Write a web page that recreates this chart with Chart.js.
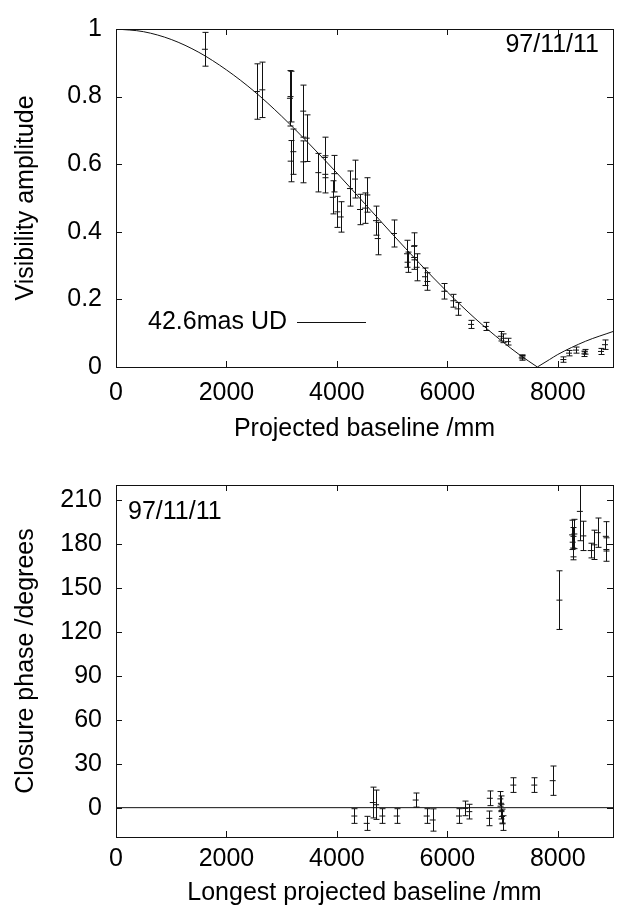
<!DOCTYPE html>
<html>
<head>
<meta charset="utf-8">
<script src="https://cdn.jsdelivr.net/npm/chart.js@4/dist/chart.umd.min.js"></script>
<style>
    html, body { margin: 0; padding: 0; background: #fff; }
    canvas { display: block; }
</style>
</head>
<body>
<canvas id="visChart" width="629" height="450"></canvas>
<canvas id="phaseChart" width="629" height="463"></canvas>
<script>
// Top panel: visibility amplitude vs projected baseline
const visX = [1610, 2550, 2650, 3150, 3160, 3163, 3211, 3390, 3392, 3453, 3664, 3780, 3790, 3924, 3954,
    4008, 4069, 4237, 4328, 4419, 4509, 4551, 4708, 4739, 5034, 5270, 5280, 5397, 5400, 5445,
    5596, 5638, 5946, 6109, 6187, 6429, 6695, 6966, 7014, 7093, 7347, 7360, 8101, 8204, 8330,
    8481, 8490, 8783, 8855];
const visY = [0.94, 0.815, 0.82, 0.795, 0.80, 0.609, 0.637, 0.757, 0.607, 0.677, 0.575, 0.62, 0.57, 0.502, 0.572,
    0.459, 0.444, 0.528, 0.556, 0.466, 0.47, 0.509, 0.433, 0.38, 0.395, 0.335, 0.31, 0.357, 0.324, 0.295,
    0.267, 0.253, 0.224, 0.196, 0.172, 0.126, 0.12, 0.091, 0.085, 0.075, 0.027, 0.03, 0.022, 0.041, 0.05,
    0.039, 0.045, 0.046, 0.066];
const visErr = [0.05, 0.082, 0.082, 0.082, 0.075, 0.061, 0.067, 0.077, 0.062, 0.069, 0.057, 0.06, 0.055, 0.049, 0.054,
    0.046, 0.045, 0.052, 0.056, 0.045, 0.045, 0.051, 0.043, 0.048, 0.04, 0.04, 0.03, 0.04, 0.035, 0.04,
    0.026, 0.026, 0.023, 0.019, 0.019, 0.012, 0.012, 0.014, 0.013, 0.01, 0.007, 0.006, 0.008, 0.008, 0.009,
    0.008, 0.007, 0.009, 0.014];

// uniform disk model curve (main lobe, then the start of the second lobe)
const lobe1X = [0, 500, 1000, 1500, 2000, 2500, 3000, 3500, 4000, 4500, 5000, 5500, 6000, 6500, 7000, 7300, 7630];
const lobe1Y = [1, 0.992, 0.969, 0.931, 0.879, 0.816, 0.742, 0.660, 0.574, 0.484, 0.394, 0.306, 0.222, 0.144, 0.075, 0.037, 0];
const lobe2X = [7630, 7850, 8000, 8500, 9000];
const lobe2Y = [0, 0.022, 0.037, 0.076, 0.105];

// Bottom panel: closure phase vs longest projected baseline
const phaseX = [4316, 4540, 4650, 4710, 4823, 5083, 5427, 5626, 5735, 6211, 6326, 6398, 6760, 6770,
    6960, 6970, 6980, 6990, 7000, 7195, 7575, 7908, 8030, 8260, 8270, 8280, 8300, 8400, 8463,
    8597, 8662, 8723, 8870, 8880];
const phaseY = [-5.7, -10.7, 3.5, 2, -5.7, -5.7, 5.2, -5.7, -8.4, -5.7, -0.5, -2.7, -7.3, 6.4,
    6, 3, -2.7, -6, -10.5, 15.4, 15.4, 18.4, 141.5, 186, 181, 177, 186.6, 202, 185.3,
    175.3, 179.2, 187.5, 185, 176];
const phaseErr = [5, 4.8, 10.5, 10, 5, 5, 4.8, 5, 7.6, 5, 5, 5, 5, 5,
    5, 5, 5, 5, 5, 5, 5, 10, 20, 10, 10, 8, 10, 20, 10,
    5, 10, 10, 10, 8];
const zeroX = [0, 9000];
const zeroY = [0, 0];

const xTicks = [0, 2000, 4000, 6000, 8000];
const visTicks = [0, 0.2, 0.4, 0.6, 0.8, 1];
const phaseTicks = [0, 30, 60, 90, 120, 150, 180, 210];

const FONT = "'Liberation Sans', Arial, Helvetica, sans-serif";
const FONT_SIZE = 25;
const INK = '#111';

function toPoints(xs, ys) {
    return xs.map((x, i) => ({ x: x, y: ys[i] }));
}

function curveSet(xs, ys) {
    return {
        type: 'line',
        data: toPoints(xs, ys),
        borderColor: INK, borderWidth: 1, pointRadius: 0,
        cubicInterpolationMode: 'monotone', fill: false
    };
}

// error bars with small caps, clipped to the plot area
const errorBars = {
    id: 'errorBars',
    afterDatasetsDraw(chart) {
        const { ctx, chartArea, scales } = chart;
        ctx.save();
        ctx.beginPath();
        ctx.rect(chartArea.left, chartArea.top, chartArea.width, chartArea.height);
        ctx.clip();
        ctx.strokeStyle = INK;
        ctx.lineWidth = 1;
        chart.data.datasets.forEach(ds => {
            if (!ds.errors) return;
            ds.data.forEach((p, i) => {
                const px = Math.round(scales.x.getPixelForValue(p.x)) + 0.5;
                const top = scales.y.getPixelForValue(p.y + ds.errors[i]);
                const bot = scales.y.getPixelForValue(p.y - ds.errors[i]);
                ctx.beginPath();
                ctx.moveTo(px, top); ctx.lineTo(px, bot);
                ctx.moveTo(px - 3, top); ctx.lineTo(px + 3, top);
                ctx.moveTo(px - 3, bot); ctx.lineTo(px + 3, bot);
                ctx.stroke();
            });
        });
        ctx.restore();
    }
};

// gnuplot style frame with inward ticks on all four sides, plus free text
const frame = {
    id: 'frame',
    afterDraw(chart, args, opts) {
        const { ctx, chartArea: a, scales } = chart;
        ctx.save();
        ctx.strokeStyle = INK;
        ctx.lineWidth = 1;
        ctx.strokeRect(Math.round(a.left) + 0.5, Math.round(a.top) + 0.5,
            Math.round(a.width), Math.round(a.height));
        ctx.beginPath();
        scales.x.ticks.forEach(t => {
            const px = Math.round(scales.x.getPixelForValue(t.value)) + 0.5;
            ctx.moveTo(px, a.bottom); ctx.lineTo(px, a.bottom - 6);
            ctx.moveTo(px, a.top); ctx.lineTo(px, a.top + 6);
        });
        scales.y.ticks.forEach(t => {
            const py = Math.round(scales.y.getPixelForValue(t.value)) + 0.5;
            ctx.moveTo(a.left, py); ctx.lineTo(a.left + 6, py);
            ctx.moveTo(a.right, py); ctx.lineTo(a.right - 6, py);
        });
        ctx.stroke();

        ctx.fillStyle = '#000';
        ctx.font = FONT_SIZE + 'px ' + FONT;
        ctx.textBaseline = 'middle';
        (opts.labels || []).forEach(l => {
            ctx.textAlign = l.align;
            ctx.fillText(l.text, l.x, l.y);
        });
        if (opts.legend) {
            const lg = opts.legend;
            ctx.textAlign = 'right';
            ctx.fillText(lg.text, lg.x, lg.y);
            ctx.beginPath();
            ctx.moveTo(lg.x + 10, lg.y + 0.5);
            ctx.lineTo(lg.x + 79, lg.y + 0.5);
            ctx.stroke();
        }
        ctx.restore();
    }
};

function baseScales(yMin, yMax, yTickList, xTitle, yTitle, xHeight, xPad) {
    const font = { family: FONT, size: FONT_SIZE };
    return {
        x: {
            type: 'linear', min: 0, max: 9000,
            afterBuildTicks: s => { s.ticks = xTicks.map(v => ({ value: v })); },
            afterFit: s => { s.height = xHeight; },
            grid: { display: false, drawTicks: false },
            border: { display: false },
            ticks: { padding: xPad, font: font, color: '#000', maxRotation: 0, callback: v => String(v) },
            title: { display: true, text: xTitle, font: font, color: '#000', padding: 0 }
        },
        y: {
            min: yMin, max: yMax,
            afterBuildTicks: s => { s.ticks = yTickList.map(v => ({ value: v })); },
            afterFit: s => { s.width = 116; },
            grid: { display: false, drawTicks: false },
            border: { display: false },
            ticks: { padding: 14, font: font, color: '#000', callback: v => String(v) },
            title: { display: true, text: yTitle, font: font, color: '#000', padding: 11 }
        }
    };
}

const visChart = new Chart(document.getElementById('visChart'), {
    type: 'scatter',
    data: {
        datasets: [
            curveSet(lobe1X, lobe1Y),
            curveSet(lobe2X, lobe2Y),
            {
                data: toPoints(visX, visY),
                errors: visErr,
                pointStyle: 'line', pointRadius: 3, borderColor: INK, borderWidth: 1
            }
        ]
    },
    options: {
        responsive: false,
        animation: false,
        layout: { padding: { left: 0, right: 16, top: 16, bottom: 6 } },
        plugins: {
            legend: { display: false },
            tooltip: { enabled: false },
            frame: {
                labels: [{ text: '97/11/11', x: 599, y: 45, align: 'right' }],
                legend: { text: '42.6mas UD', x: 287, y: 322 }
            }
        },
        scales: baseScales(0, 1, visTicks, 'Projected baseline /mm', 'Visibility amplitude', 77, 11)
    },
    plugins: [errorBars, frame]
});

const phaseChart = new Chart(document.getElementById('phaseChart'), {
    type: 'scatter',
    data: {
        datasets: [
            curveSet(zeroX, zeroY),
            {
                data: toPoints(phaseX, phaseY),
                errors: phaseErr,
                pointStyle: 'line', pointRadius: 3, borderColor: INK, borderWidth: 1
            }
        ]
    },
    options: {
        responsive: false,
        animation: false,
        layout: { padding: { left: 0, right: 16, top: 35, bottom: 5 } },
        plugins: {
            legend: { display: false },
            tooltip: { enabled: false },
            frame: {
                labels: [{ text: '97/11/11', x: 128, y: 62, align: 'left' }]
            }
        },
        scales: baseScales(-20, 220, phaseTicks, 'Longest projected baseline /mm', 'Closure phase /degrees', 71, 7)
    },
    plugins: [errorBars, frame]
});
</script>
</body>
</html>
